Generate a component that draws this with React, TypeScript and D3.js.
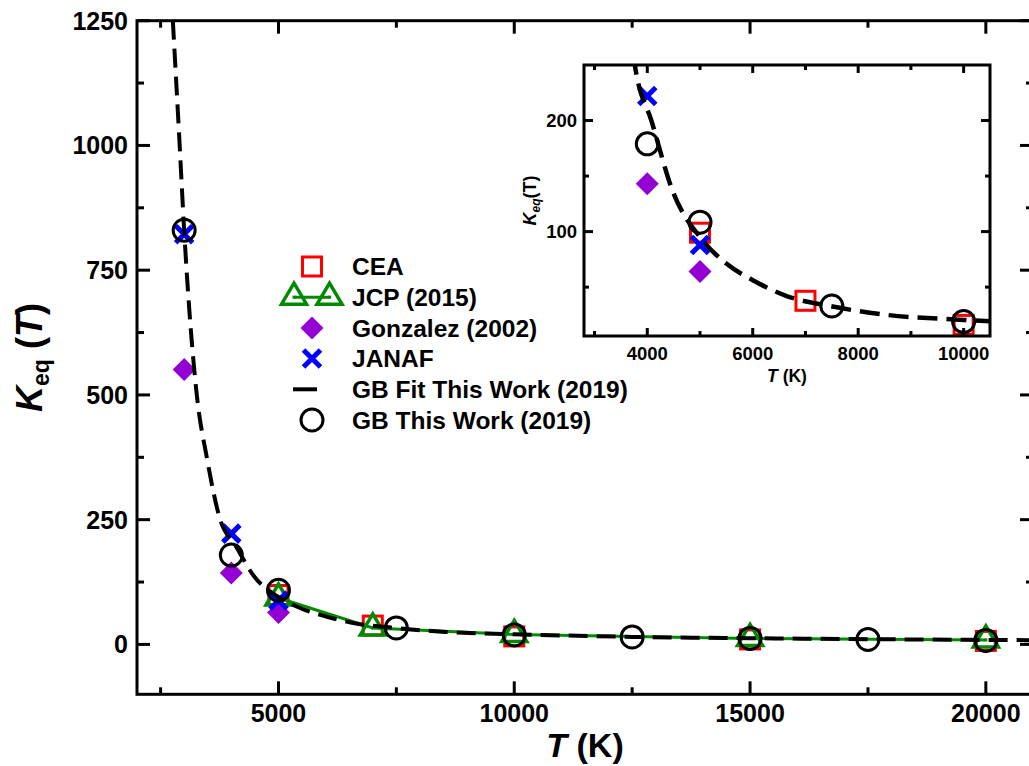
import React from "react";
import * as d3 from "d3";

// ---- data ----
const cea_T = [5000, 7000, 10000, 15000, 20000];
const cea_K = [99, 37.7, 16, 10, 7];
const jcp_T = [5000, 7000, 10000, 15000, 20000];
const jcp_K = [93, 33, 20, 12, 9];
const gon_T = [3000, 4000, 5000];
const gon_K = [551, 143, 64];
const janaf_T = [3000, 4000, 5000];
const janaf_K = [822, 222, 88];
const gb_T = [3000, 4000, 5000, 7500, 10000, 12500, 15000, 17500, 20000];
const gb_K = [830, 179, 108.5, 33, 19, 15, 12, 10, 8];
const fit_T = [2760, 2905, 3000, 3268, 3480, 3764, 4084, 4494, 5000, 5506, 6011, 6644, 7465, 8540, 10000, 12500, 15000, 17500, 20000, 21000];
const fit_K = [1250, 1000, 830, 500, 375, 250, 199, 135, 95, 71, 56, 42, 33, 25, 20.5, 15, 12.5, 10.5, 9, 8.5];

const mainXTicks = [5000, 10000, 15000, 20000];
const mainXMinor = [2500, 7500, 12500, 17500];
const mainYTicks = [0, 250, 500, 750, 1000, 1250];
const mainYMinor = [125, 375, 625, 875, 1125];
const insetXTicks = [4000, 6000, 8000, 10000];
const insetXMinor = [3000, 5000, 7000, 9000];
const insetYTicks = [100, 200];
const insetYMinor = [50, 150];

const legendLabels = ["CEA", "JCP (2015)", "Gonzalez (2002)", "JANAF", "GB Fit This Work (2019)", "GB This Work (2019)"];

const FONT = "'Liberation Sans', Arial, Helvetica, sans-serif";
const RED = "#ff0000";
const GREEN = "#008a00";
const PURPLE = "#9400d3";
const BLUE = "#0000ff";

const zip = (a: number[], b: number[]) => a.map((v, i) => [v, b[i]] as [number, number]);

function Square({ x, y }: { x: number; y: number }) {
  return <rect x={x - 9.5} y={y - 9.5} width={19} height={19} fill="none" stroke={RED} strokeWidth={3} />;
}
function Triangle({ x, y }: { x: number; y: number }) {
  const h = 21, w = 25;
  const top = y - (2 / 3) * h, bot = y + h / 3;
  return (
    <g>
      <path d={`M${x},${top}L${x + w / 2},${bot}L${x - w / 2},${bot}Z`} fill="none" stroke={GREEN} strokeWidth={3.5} strokeLinejoin="miter" />
      <rect x={x - 1.5} y={y - 1.5} width={3} height={3} fill={GREEN} />
    </g>
  );
}
function Diamond({ x, y }: { x: number; y: number }) {
  const r = 11.5;
  return <path d={`M${x},${y - r}L${x + r},${y}L${x},${y + r}L${x - r},${y}Z`} fill={PURPLE} />;
}
function Cross({ x, y }: { x: number; y: number }) {
  const r = 8.5;
  return <path d={`M${x - r},${y - r}L${x + r},${y + r}M${x - r},${y + r}L${x + r},${y - r}`} stroke={BLUE} strokeWidth={5} />;
}
function Circle({ x, y }: { x: number; y: number }) {
  return <circle cx={x} cy={y} r={11} fill="none" stroke="#000" strokeWidth={3} />;
}

export default function App() {
  const x = d3.scaleLinear().domain([2000, 21000]).range([137, 1033]);
  const y = d3.scaleLinear().domain([-100, 1250]).range([694.3, 20.7]);
  const xi = d3.scaleLinear().domain([2800, 10500]).range([584, 990]);
  const yi = d3.scaleLinear().domain([6, 250]).range([336, 65]);

  const lineMain = d3.line<[number, number]>().x((d) => x(d[0])).y((d) => y(d[1])).curve(d3.curveMonotoneX);
  const lineJcp = d3.line<[number, number]>().x((d) => x(d[0])).y((d) => y(d[1]));
  const lineInset = d3.line<[number, number]>().x((d) => xi(d[0])).y((d) => yi(d[1])).curve(d3.curveMonotoneX);

  const [x0, x1] = x.range();
  const [yb, yt] = y.range();
  const [ix0, ix1] = xi.range();
  const [iyb, iyt] = yi.range();

  const fitData = zip(fit_T, fit_K);

  const legX = 312, legTextX = 352, legY0 = 266.5, legStep = 30.7;

  return (
    <svg width={1029} height={766} style={{ position: "absolute", left: 0, top: 0, background: "#fff" }} fontFamily={FONT}>
      <defs>
        <clipPath id="mainClip"><rect x={x0} y={yt} width={x1 - x0} height={yb - yt} /></clipPath>
        <clipPath id="insetClip"><rect x={ix0} y={iyt} width={ix1 - ix0} height={iyb - iyt} /></clipPath>
      </defs>

      {/* main plot data */}
      <g clipPath="url(#mainClip)">
        <path d={lineJcp(zip(jcp_T, jcp_K)) || ""} fill="none" stroke={GREEN} strokeWidth={3} />
        {zip(cea_T, cea_K).map((d, i) => <Square key={"c" + i} x={x(d[0])} y={y(d[1])} />)}
        {zip(jcp_T, jcp_K).map((d, i) => <Triangle key={"j" + i} x={x(d[0])} y={y(d[1])} />)}
        {zip(gon_T, gon_K).map((d, i) => <Diamond key={"g" + i} x={x(d[0])} y={y(d[1])} />)}
        {zip(janaf_T, janaf_K).map((d, i) => <Cross key={"n" + i} x={x(d[0])} y={y(d[1])} />)}
        <path d={lineMain(fitData) || ""} fill="none" stroke="#000" strokeWidth={4} strokeDasharray="19 9" />
        {zip(gb_T, gb_K).map((d, i) => <Circle key={"b" + i} x={x(d[0])} y={y(d[1])} />)}
      </g>

      {/* main axes */}
      <g stroke="#000" strokeWidth={3}>
        <rect x={x0} y={yt} width={x1 - x0} height={yb - yt} fill="none" />
        {mainXTicks.map((t) => (
          <g key={"mx" + t}>
            <line x1={x(t)} x2={x(t)} y1={yb} y2={yb - 13} />
            <line x1={x(t)} x2={x(t)} y1={yt} y2={yt + 13} />
          </g>
        ))}
        {mainXMinor.map((t) => (
          <g key={"mxm" + t}>
            <line x1={x(t)} x2={x(t)} y1={yb} y2={yb - 7} />
            <line x1={x(t)} x2={x(t)} y1={yt} y2={yt + 7} />
          </g>
        ))}
        {mainYTicks.map((t) => (
          <g key={"my" + t}>
            <line x1={x0} x2={x0 + 13} y1={y(t)} y2={y(t)} />
            <line x1={x1} x2={x1 - 13} y1={y(t)} y2={y(t)} />
          </g>
        ))}
        {mainYMinor.map((t) => (
          <g key={"mym" + t}>
            <line x1={x0} x2={x0 + 7} y1={y(t)} y2={y(t)} />
            <line x1={x1} x2={x1 - 7} y1={y(t)} y2={y(t)} />
          </g>
        ))}
      </g>
      <g fontSize={25} fontWeight="bold" fill="#000">
        {mainXTicks.map((t) => (
          <text key={"lx" + t} x={x(t)} y={722} textAnchor="middle">{t}</text>
        ))}
        {mainYTicks.map((t) => (
          <text key={"ly" + t} x={128} y={y(t)} dy="0.36em" textAnchor="end">{t}</text>
        ))}
      </g>
      <text x={(x0 + x1) / 2} y={757} textAnchor="middle" fontSize={34} fontWeight="bold">
        <tspan fontStyle="italic">T</tspan> (K)
      </text>
      <text transform={`translate(42,${(yt + yb) / 2}) rotate(-90)`} textAnchor="middle" fontSize={36} fontWeight="bold">
        <tspan fontStyle="italic">K</tspan>
        <tspan fontSize={23} dy={7}>eq</tspan>
        <tspan dy={-7}> (</tspan>
        <tspan fontStyle="italic">T</tspan>
        <tspan>)</tspan>
      </text>

      {/* legend */}
      <g>
        <Square x={legX} y={legY0} />
        <line x1={294} x2={329.5} y1={legY0 + legStep} y2={legY0 + legStep} stroke={GREEN} strokeWidth={3} />
        <Triangle x={294} y={legY0 + legStep} />
        <Triangle x={329.5} y={legY0 + legStep} />
        <Diamond x={legX} y={legY0 + 2 * legStep} />
        <Cross x={legX} y={legY0 + 3 * legStep} />
        <line x1={293} x2={317} y1={legY0 + 4 * legStep} y2={legY0 + 4 * legStep} stroke="#000" strokeWidth={4} />
        <Circle x={legX} y={legY0 + 5 * legStep} />
        {legendLabels.map((l, i) => (
          <text key={l} x={legTextX} y={legY0 + i * legStep} dy="0.36em" fontSize={24.5} fontWeight="bold">{l}</text>
        ))}
      </g>

      {/* inset */}
      <rect x={ix0} y={iyt} width={ix1 - ix0} height={iyb - iyt} fill="#fff" />
      <g clipPath="url(#insetClip)">
        {zip(cea_T, cea_K).map((d, i) => <Square key={"ic" + i} x={xi(d[0])} y={yi(d[1])} />)}
        {zip(gon_T, gon_K).map((d, i) => <Diamond key={"ig" + i} x={xi(d[0])} y={yi(d[1])} />)}
        {zip(janaf_T, janaf_K).map((d, i) => <Cross key={"in" + i} x={xi(d[0])} y={yi(d[1])} />)}
        <path d={lineInset(fitData) || ""} fill="none" stroke="#000" strokeWidth={4.5} strokeDasharray="20 9" />
        {zip(gb_T, gb_K).map((d, i) => <Circle key={"ib" + i} x={xi(d[0])} y={yi(d[1])} />)}
      </g>
      <g stroke="#000" strokeWidth={3}>
        <rect x={ix0} y={iyt} width={ix1 - ix0} height={iyb - iyt} fill="none" />
        {insetXTicks.map((t) => (
          <g key={"ix" + t}>
            <line x1={xi(t)} x2={xi(t)} y1={iyb} y2={iyb - 8} />
            <line x1={xi(t)} x2={xi(t)} y1={iyt} y2={iyt + 8} />
          </g>
        ))}
        {insetXMinor.map((t) => (
          <g key={"ixm" + t}>
            <line x1={xi(t)} x2={xi(t)} y1={iyb} y2={iyb - 5} />
            <line x1={xi(t)} x2={xi(t)} y1={iyt} y2={iyt + 5} />
          </g>
        ))}
        {insetYTicks.map((t) => (
          <g key={"iy" + t}>
            <line x1={ix0} x2={ix0 + 9} y1={yi(t)} y2={yi(t)} />
            <line x1={ix1} x2={ix1 - 9} y1={yi(t)} y2={yi(t)} />
          </g>
        ))}
        {insetYMinor.map((t) => (
          <g key={"iym" + t}>
            <line x1={ix0} x2={ix0 + 5} y1={yi(t)} y2={yi(t)} />
            <line x1={ix1} x2={ix1 - 5} y1={yi(t)} y2={yi(t)} />
          </g>
        ))}
      </g>
      <g fontSize={18.5} fontWeight="bold" fill="#000">
        {insetXTicks.map((t) => (
          <text key={"ilx" + t} x={xi(t)} y={360} textAnchor="middle">{t}</text>
        ))}
        {insetYTicks.map((t) => (
          <text key={"ily" + t} x={577} y={yi(t)} dy="0.36em" textAnchor="end">{t}</text>
        ))}
      </g>
      <text x={(ix0 + ix1) / 2} y={382} textAnchor="middle" fontSize={17.5} fontWeight="bold">
        <tspan fontStyle="italic">T</tspan> (K)
      </text>
      <text transform={`translate(536,${(iyt + iyb) / 2}) rotate(-90)`} textAnchor="middle" fontSize={18} fontWeight="bold">
        <tspan fontStyle="italic">K</tspan>
        <tspan fontSize={12} dy={4} fontStyle="italic">eq</tspan>
        <tspan dy={-4}>(T)</tspan>
      </text>
    </svg>
  );
}
